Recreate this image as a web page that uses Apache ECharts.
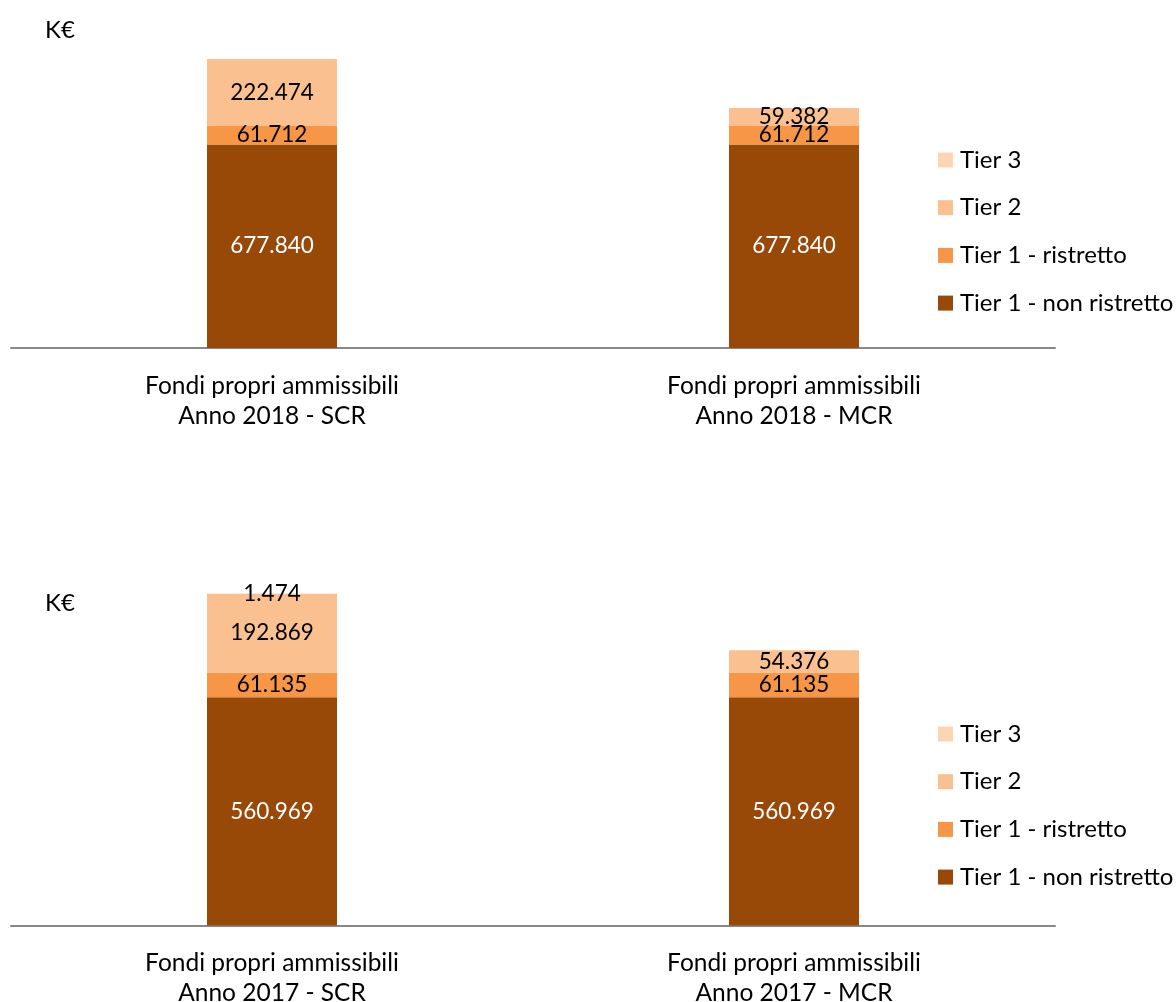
<!DOCTYPE html>
<html><head><meta charset="utf-8">
<script src="https://cdn.jsdelivr.net/npm/echarts@6/dist/echarts.min.js"></script>
<style>html,body{margin:0;padding:0;background:#fff}#c{width:1176px;height:1002px}</style>
</head><body><div id="c"></div>
<script>
const categories2018 = ["Fondi propri ammissibili\nAnno 2018 - SCR", "Fondi propri ammissibili\nAnno 2018 - MCR"];
const categories2017 = ["Fondi propri ammissibili\nAnno 2017 - SCR", "Fondi propri ammissibili\nAnno 2017 - MCR"];
const seriesNames = ["Tier 1 - non ristretto", "Tier 1 - ristretto", "Tier 2", "Tier 3"];
const legendOrder = ["Tier 3", "Tier 2", "Tier 1 - ristretto", "Tier 1 - non ristretto"];
const t1nr2018 = [677840, 677840];
const t1r2018 = [61712, 61712];
const t2_2018 = [222474, 59382];
const t3_2018 = [0, 0];
const t1nr2017 = [560969, 560969];
const t1r2017 = [61135, 61135];
const t2_2017 = [192869, 54376];
const t3_2017 = [1474, 0];
const unitLabel = "K€";

const colors = ["#984807", "#F79646", "#FAC090", "#FCD5B5"];
const labelColors = ["#ffffff", "#000000", "#000000", "#000000"];
const FONT = "Lato";

function fmt(v){ return String(v).replace(/\B(?=(\d{3})+(?!\d))/g, "."); }

const data2018 = [t1nr2018, t1r2018, t2_2018, t3_2018];
const data2017 = [t1nr2017, t1r2017, t2_2017, t3_2017];

function mkSeries(dataSets, idx, stack){
  return seriesNames.map((n, i) => ({
    name: n, type: "bar", stack: stack, xAxisIndex: idx, yAxisIndex: idx,
    barWidth: 130,
    itemStyle: { color: colors[i] },
    data: dataSets[i].map(v => v === 0 ? null : v),
    label: { show: true, position: "inside", color: labelColors[i], fontFamily: FONT, fontSize: 22.5,
      formatter: p => fmt(p.value) },
    emphasis: { disabled: true }
  }));
}

const chart = echarts.init(document.getElementById("c"));
const legendBase = {
  orient: "vertical", left: 933, icon: "rect", itemWidth: 15, itemHeight: 15,
  itemGap: 23.7, data: legendOrder, selectedMode: false,
  textStyle: { fontFamily: FONT, fontSize: 24, color: "#000", lineHeight: 24, padding: [0, 0, 0, 2] }
};
chart.setOption({
  animation: false,
  backgroundColor: "#fff",
  grid: [
    { left: 11, right: 121, top: 47.7, bottom: 654, containLabel: false, outerBoundsMode: "none" },
    { left: 11, right: 121, top: 559.4, bottom: 76.5, containLabel: false, outerBoundsMode: "none" }
  ],
  xAxis: [0, 1].map(i => ({
    type: "category", gridIndex: i, data: i === 0 ? categories2018 : categories2017,
    axisLine: { lineStyle: { color: "#888888", width: 2 } },
    axisTick: { show: false },
    axisLabel: { fontFamily: FONT, fontSize: 24.5, color: "#000", lineHeight: 30, margin: 23 }
  })),
  yAxis: [
    { type: "value", gridIndex: 0, min: 0, max: 1000000, show: false, splitLine: { show: false } },
    { type: "value", gridIndex: 1, min: 0, max: 900000, show: false, splitLine: { show: false } }
  ],
  legend: [
    Object.assign({}, legendBase, { top: 143 }),
    Object.assign({}, legendBase, { top: 717 })
  ],
  graphic: [
    { type: "text", left: 45, top: 18, style: { text: unitLabel, fontFamily: FONT, fontSize: 24, fill: "#000" } },
    { type: "text", left: 45, top: 591, style: { text: unitLabel, fontFamily: FONT, fontSize: 24, fill: "#000" } }
  ],
  series: [...mkSeries(data2018, 0, "a"), ...mkSeries(data2017, 1, "b")]
});
</script></body></html>
